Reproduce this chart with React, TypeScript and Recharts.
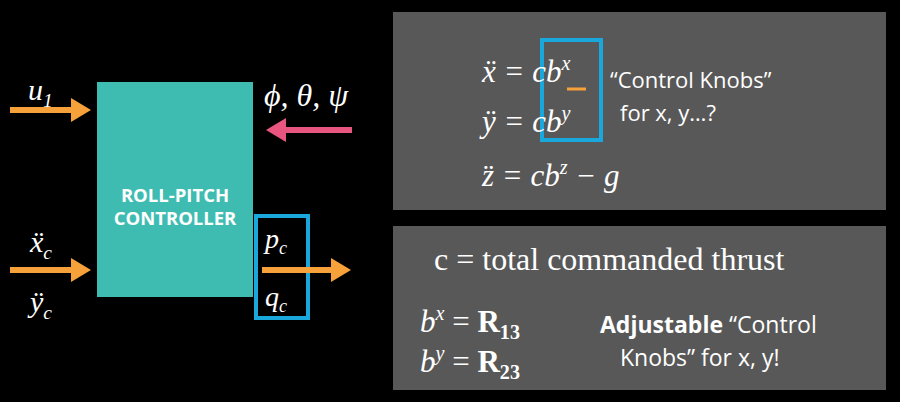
import { ComposedChart, XAxis, YAxis, ReferenceArea, ReferenceLine, Scatter } from "recharts";

const W = 900;
const H = 402;

const boxes = [
  { id: "ctrl", x1: 97, x2: 253, y1: 82, y2: 297, fill: "#3fbcb2", stroke: "none" },
  { id: "pq", x1: 256, x2: 308, y1: 216, y2: 318, fill: "none", stroke: "#1aa8dc" },
  { id: "panel1", x1: 393, x2: 886, y1: 12, y2: 210, fill: "#585858", stroke: "none" },
  { id: "panel2", x1: 393, x2: 886, y1: 226, y2: 390, fill: "#585858", stroke: "none" },
  { id: "knob", x1: 542, x2: 601, y1: 40, y2: 140, fill: "none", stroke: "#1aa8dc" },
];

const shafts = [
  { id: "u1", from: 10, to: 74, y: 110, color: "#f7a13a" },
  { id: "ang", from: 352, to: 284, y: 130, color: "#e8567f" },
  { id: "acc", from: 10, to: 74, y: 270, color: "#f7a13a" },
  { id: "out", from: 262, to: 334, y: 270, color: "#f7a13a" },
  { id: "ul", from: 567, to: 586, y: 89, color: "#f7a13a" },
];

const heads = [
  { x: 91, y: 110, dir: 1, color: "#f7a13a" },
  { x: 266, y: 130, dir: -1, color: "#e8567f" },
  { x: 91, y: 270, dir: 1, color: "#f7a13a" },
  { x: 351, y: 270, dir: 1, color: "#f7a13a" },
];

const SERIF = "'Liberation Serif', 'DejaVu Serif', serif";
const SANS = "'Open Sans', 'Noto Sans', sans-serif";

const labels = [
  { x: 28, y: 100, text: "u", sub: "1", size: 30, font: SERIF, italic: true, weight: 400 },
  { x: 264, y: 106, text: "ϕ, θ, ψ", size: 32, font: SERIF, italic: true, weight: 400 },
  { x: 30, y: 252, text: "ẍ", sub: "c", size: 30, font: SERIF, italic: true, weight: 400 },
  { x: 30, y: 312, text: "ÿ", sub: "c", size: 30, font: SERIF, italic: true, weight: 400 },
  { x: 265, y: 248, text: "p", sub: "c", size: 28, font: SERIF, italic: true, weight: 400 },
  { x: 265, y: 306, text: "q", sub: "c", size: 28, font: SERIF, italic: true, weight: 400 },
  { x: 175, y: 202, text: "ROLL-PITCH", size: 18.5, font: SANS, weight: 700, anchor: "middle" },
  { x: 175, y: 202 + 23, text: "CONTROLLER", size: 18.5, font: SANS, weight: 700, anchor: "middle" },
  { x: 482, y: 82, text: "ẍ = cb", sup: "x", size: 31, font: SERIF, italic: true, weight: 400 },
  { x: 482, y: 132, text: "ÿ = cb", sup: "y", size: 31, font: SERIF, italic: true, weight: 400 },
  { x: 482, y: 186, text: "z̈ = cb", sup: "z", tail: " − g", size: 31, font: SERIF, italic: true, weight: 400 },
  { x: 610, y: 88, text: "“Control Knobs”", size: 22, font: SANS, weight: 400 },
  { x: 620, y: 121, text: "for x, y…?", size: 22, font: SANS, weight: 400 },
  { x: 434, y: 270, text: "c = total commanded thrust", size: 32, font: SERIF, weight: 400 },
  { x: 420, y: 332, text: "b", sup: "x", tail: " = ", bold: "R", sub2: "13", size: 31, font: SERIF, italic: true, weight: 400 },
  { x: 420, y: 372, text: "b", sup: "y", tail: " = ", bold: "R", sub2: "23", size: 31, font: SERIF, italic: true, weight: 400 },
  { x: 600, y: 333, text: "Adjustable", tail2: " “Control", size: 23, font: SANS, weight: 700 },
  { x: 620, y: 366, text: "Knobs” for x, y!", size: 23, font: SANS, weight: 400 },
];

const Head = (p: any) => {
  const { cx, cy, payload } = p;
  const d = payload.dir;
  const pts = `${cx},${cy} ${cx - d * 20},${cy - 12} ${cx - d * 20},${cy + 12}`;
  return <polygon points={pts} fill={payload.color} />;
};

const Label = (p: any) => {
  const { cx, cy, payload: l } = p;
  return (
    <text
      x={cx}
      y={cy}
      fill="#fff"
      fontSize={l.size}
      fontFamily={l.font}
      fontStyle={l.italic ? "italic" : "normal"}
      fontWeight={l.weight}
      textAnchor={l.anchor || "start"}
    >
      {l.text}
      {l.sub && (
        <tspan fontSize={l.size * 0.65} dy={l.size * 0.22}>
          {l.sub}
        </tspan>
      )}
      {l.sup && (
        <tspan fontSize={l.size * 0.65} dy={-l.size * 0.4}>
          {l.sup}
        </tspan>
      )}
      {l.tail && (
        <tspan dy={l.sup ? l.size * 0.4 : 0} fontStyle={l.bold ? "normal" : undefined}>
          {l.tail}
        </tspan>
      )}
      {l.bold && (
        <tspan fontStyle="normal" fontWeight={700}>
          {l.bold}
        </tspan>
      )}
      {l.sub2 && (
        <tspan fontSize={l.size * 0.65} dy={l.size * 0.22} fontStyle="normal" fontWeight={700}>
          {l.sub2}
        </tspan>
      )}
      {l.tail2 && <tspan fontWeight={400}>{l.tail2}</tspan>}
    </text>
  );
};

export default function App() {
  return (
    <div style={{ width: W, height: H, background: "#000" }}>
      <style>{"body{margin:0;background:#000}"}</style>
      <ComposedChart width={W} height={H} margin={{ top: 0, right: 0, bottom: 0, left: 0 }} data={labels}>
        <XAxis type="number" dataKey="x" domain={[0, W]} hide />
        <YAxis type="number" dataKey="y" domain={[0, H]} reversed hide />
        {boxes.map((b) => (
          <ReferenceArea
            key={b.id}
            x1={b.x1}
            x2={b.x2}
            y1={b.y1}
            y2={b.y2}
            fill={b.fill}
            fillOpacity={b.fill === "none" ? 0 : 1}
            stroke={b.stroke}
            strokeWidth={4}
            ifOverflow="visible"
          />
        ))}
        {shafts.map((s) => (
          <ReferenceLine
            key={s.id}
            segment={[
              { x: s.from, y: s.y },
              { x: s.to, y: s.y },
            ]}
            stroke={s.color}
            strokeWidth={s.id === "ul" ? 3 : 6}
            ifOverflow="visible"
          />
        ))}
        <Scatter data={heads} shape={Head} isAnimationActive={false} />
        <Scatter data={labels} shape={Label} isAnimationActive={false} />
      </ComposedChart>
    </div>
  );
}
